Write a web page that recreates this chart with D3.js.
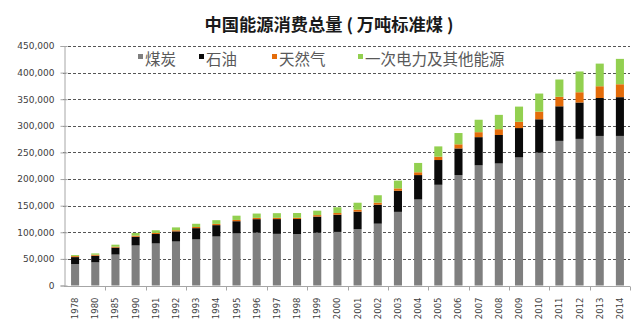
<!DOCTYPE html>
<html>
<head>
<meta charset="utf-8">
<script src="https://cdn.jsdelivr.net/npm/d3@7"></script>
<style>
  body { margin: 0; background: #fff; }
  svg { display: block; }
</style>
</head>
<body>
<div id="chart"></div>
<script>
// 中国能源消费总量, 万吨标准煤
const years = ["1978", "1980", "1985", "1990", "1991", "1992", "1993", "1994", "1995", "1996",
  "1997", "1998", "1999", "2000", "2001", "2002", "2003", "2004", "2005", "2006",
  "2007", "2008", "2009", "2010", "2011", "2012", "2013", "2014"];

const coal = [40401, 43519, 58125, 75212, 78979, 82642, 86647, 92053, 97857, 99366,
  97039, 96554, 99242, 100670, 105772, 116160, 138352, 161657, 189231, 207402,
  225795, 229237, 240666, 249568, 271704, 275465, 281000, 281032];
const oil = [12972, 12477, 13113, 16385, 17747, 19105, 21111, 21356, 22956, 25281,
  27725, 28326, 30222, 32332, 32976, 35611, 39614, 45826, 46524, 50132,
  52945, 53542, 55125, 62753, 65023, 68363, 71292, 72813];
const gas = [1829, 1869, 1687, 2073, 2076, 2074, 2204, 2332, 2361, 2433,
  2446, 2451, 2811, 3233, 3733, 3900, 4533, 5296, 6273, 7735,
  9343, 10901, 11764, 14426, 17804, 19303, 22096, 24271];
const other = [1943, 2411, 3757, 5034, 4982, 5349, 6032, 6996, 8002, 8112,
  8698, 8852, 8294, 10728, 13066, 13905, 14584, 17501, 19341, 21199,
  23358, 26931, 28571, 33901, 32512, 39007, 42525, 47690];

const seriesNames = ["煤炭", "石油", "天然气", "一次电力及其他能源"];
const yTicks = [0, 50000, 100000, 150000, 200000, 250000, 300000, 350000, 400000, 450000];

const colors = ["#7f7f7f", "#0a0a0a", "#e46c0a", "#92d050"];
const keys = ["coal", "oil", "gas", "other"];

const width = 640, height = 329;
const margin = { top: 46, right: 10, bottom: 43.5, left: 64 };

const table = years.map((y, i) => ({
  year: y, coal: coal[i], oil: oil[i], gas: gas[i], other: other[i]
}));
const stacked = d3.stack().keys(keys)(table);

const svg = d3.select("#chart").append("svg")
  .attr("width", width)
  .attr("height", height);

const x = d3.scaleBand()
  .domain(years)
  .range([margin.left + 1, width - margin.right])
  .paddingInner(0.6)
  .paddingOuter(0.3);

const y = d3.scaleLinear()
  .domain([0, 450000])
  .range([height - margin.bottom, margin.top]);

const numFont = "'DejaVu Sans', Verdana, sans-serif";
const cjkFont = "'Noto Sans CJK SC', 'Noto Sans', sans-serif";
const axisColor = "#a6a6a6";

// dashed gridlines
svg.append("g")
  .selectAll("line")
  .data(yTicks.slice(1))
  .join("line")
  .attr("x1", margin.left - 1)
  .attr("x2", width - margin.right)
  .attr("y1", d => Math.round(y(d)) + 0.5)
  .attr("y2", d => Math.round(y(d)) + 0.5)
  .attr("stroke", "#555")
  .attr("stroke-dasharray", "3,2");

// stacked bars
svg.append("g")
  .selectAll("g")
  .data(stacked)
  .join("g")
  .attr("fill", (d, i) => colors[i])
  .selectAll("rect")
  .data(d => d)
  .join("rect")
  .attr("x", d => x(d.data.year))
  .attr("width", x.bandwidth())
  .attr("y", d => y(d[1]))
  .attr("height", d => y(d[0]) - y(d[1]));

// y axis, ticks cross the axis line
const yAxis = svg.append("g")
  .attr("transform", `translate(${margin.left + 0.5},0)`)
  .call(d3.axisLeft(y).tickValues(yTicks).tickSize(4).tickPadding(6)
    .tickFormat(d3.format(",")));
yAxis.select(".domain").attr("stroke", axisColor);
yAxis.selectAll(".tick line").attr("stroke", axisColor).attr("x2", -4).attr("x1", 3);
yAxis.selectAll("text")
  .attr("fill", "#404040")
  .style("font-family", numFont)
  .style("font-size", "9px");

// x axis: ticks every second category boundary
const x0 = Math.round(height - margin.bottom) + 0.5;
const plotLeft = margin.left + 1, plotRight = width - margin.right;
svg.append("line")
  .attr("x1", margin.left)
  .attr("x2", plotRight)
  .attr("y1", x0)
  .attr("y2", x0)
  .attr("stroke", axisColor);

svg.append("g")
  .selectAll("line")
  .data(d3.range(2, years.length + 1, 2))
  .join("line")
  .attr("x1", i => Math.round(plotLeft + i * (plotRight - plotLeft) / years.length) + 0.5)
  .attr("x2", i => Math.round(plotLeft + i * (plotRight - plotLeft) / years.length) + 0.5)
  .attr("y1", x0)
  .attr("y2", x0 + 4)
  .attr("stroke", axisColor);

svg.append("g")
  .selectAll("text")
  .data(years)
  .join("text")
  .attr("transform", d => `translate(${x(d) + x.bandwidth() / 2 + 3},${x0 + 11}) rotate(-90)`)
  .attr("text-anchor", "end")
  .attr("fill", "#404040")
  .style("font-family", numFont)
  .style("font-size", "8.5px")
  .text(d => d);

// title
svg.append("text")
  .attr("x", 329)
  .attr("y", 31)
  .attr("text-anchor", "middle")
  .attr("fill", "#1a1a1a")
  .attr("textLength", 249)
  .attr("lengthAdjust", "spacingAndGlyphs")
  .style("font-family", cjkFont)
  .style("font-weight", "bold")
  .style("font-size", "17px")
  .text("中国能源消费总量 ( 万吨标准煤 )");

// legend
const legendX = [138, 199, 272, 358];
const legend = svg.append("g")
  .selectAll("g")
  .data(seriesNames)
  .join("g")
  .attr("transform", (d, i) => `translate(${legendX[i]},65)`);
legend.append("rect")
  .attr("x", 0)
  .attr("y", -11)
  .attr("width", 5)
  .attr("height", 5)
  .attr("fill", (d, i) => colors[i]);
legend.append("text")
  .attr("x", 7)
  .attr("y", 0)
  .attr("fill", "#595959")
  .style("font-family", cjkFont)
  .style("font-size", "15.5px")
  .text(d => d);
</script>
</body>
</html>
